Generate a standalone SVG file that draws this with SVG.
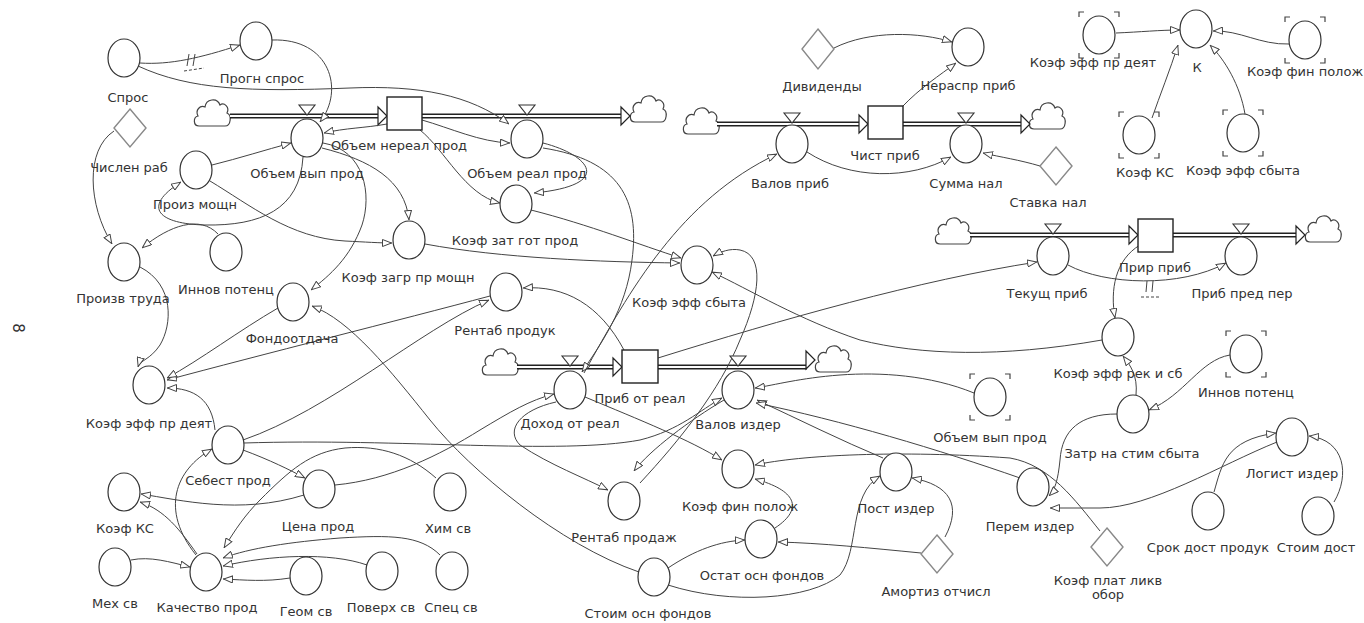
<svg xmlns="http://www.w3.org/2000/svg" xmlns:xlink="http://www.w3.org/1999/xlink" width="1364" height="623" viewBox="0 0 1364 623">
<style>
.n{fill:#fff;stroke:#333;stroke-width:1.2}
.d{fill:#fff;stroke:#888;stroke-width:1.4}
.b{fill:#fff;stroke:#222;stroke-width:1.4}
.t{font-family:"DejaVu Sans",sans-serif;font-size:13px;fill:#333;text-anchor:middle}
.c{fill:none;stroke:#444;stroke-width:1;marker-end:url(#ah)}
.po{fill:none;stroke:#222;stroke-width:5}
.pi{fill:none;stroke:#fff;stroke-width:2.2}
.pa{fill:#fff;stroke:#222;stroke-width:1.2}
.v{fill:#fff;stroke:#333;stroke-width:1.1}
.cl{fill:#fff;stroke:#444;stroke-width:1.2}
.br{fill:none;stroke:#444;stroke-width:1.2}
.dl{fill:none;stroke:#444;stroke-width:1}
.dd{fill:none;stroke:#444;stroke-width:1;stroke-dasharray:3 2}
</style>
<defs>
<marker id="ah" viewBox="0 0 10 8" refX="10" refY="4" markerWidth="10" markerHeight="8" orient="auto" markerUnits="userSpaceOnUse">
<path d="M0.5,0.5 L9.5,4 L0.5,7.5 Z" fill="#fff" stroke="#444" stroke-width="1"/>
</marker>
<path id="cloud" class="cl" d="M-13,12 C-19,12 -19,3 -14,2 C-17,-4 -12,-9 -7,-7 C-6,-15 5,-17 8,-9 C12,-12 18,-7 15,-1 C20,1 19,12 13,12 Z"/>
<path id="brk" class="br" d="M-20,-18 V-23 H-15 M15,-23 H20 V-18 M20,18 V23 H15 M-15,23 H-20 V18"/>
</defs>
<rect width="1364" height="623" fill="#fff"/>

<text x="18" y="328" font-family="DejaVu Sans, sans-serif" font-size="15" fill="#333" text-anchor="middle" dominant-baseline="central" transform="rotate(90 18 328)">8</text>

<g id="flows">
<use href="#cloud" x="212" y="114"/>
<use href="#cloud" x="648" y="110"/>
<use href="#cloud" x="701" y="122"/>
<use href="#cloud" x="1047" y="117"/>
<use href="#cloud" x="953" y="232"/>
<use href="#cloud" x="1323" y="230"/>
<use href="#cloud" x="500" y="363"/>
<use href="#cloud" x="833" y="360"/>
<path class="po" d="M230,116 H379 M422,116 H622 M717,124 H860 M903,124 H1022 M970,235 H1130 M1173,235 H1297 M517,367 H614 M658,367 H807"/>
<path class="pi" d="M230,116 H379 M422,116 H622 M717,124 H860 M903,124 H1022 M970,235 H1130 M1173,235 H1297 M517,367 H614 M658,367 H807"/>
<path class="pa" d="M378,107 L387,116 L378,125 Z M621,107 L630,116 L621,125 Z M859,115 L868,124 L859,133 Z M1021,115 L1030,124 L1021,133 Z M1129,226 L1138,235 L1129,244 Z M1296,226 L1305,235 L1296,244 Z M613,358 L622,367 L613,376 Z M806,351 L815,360 L806,369 Z"/>
</g>

<g id="connectors">
<path class="c" d="M140,63 C170,65 200,58 240,45"/>
<path class="dl" d="M189,54 L187,66 M195,54 L193,66"/>
<path class="dd" d="M184,71 L204,68"/>
<path class="c" d="M138,66 C190,90 250,92 350,88 C420,85 470,95 509,124"/>
<path class="c" d="M272,40 C330,38 345,90 320,122"/>
<path class="c" d="M114,131 C85,150 88,205 112,244"/>
<path class="c" d="M212,165 C240,158 265,150 291,143"/>
<path class="c" d="M303,157 C300,210 260,226 205,225 C160,224 140,208 181,182"/>
<path class="c" d="M218,234 C200,215 170,225 142,248"/>
<path class="c" d="M210,181 C250,205 290,238 345,241 C365,242 380,243 392,243"/>
<path class="c" d="M322,148 C370,160 405,180 409,220"/>
<path class="c" d="M323,143 C365,150 372,195 362,225 C350,258 330,275 311,290"/>
<path class="c" d="M387,124 C365,128 345,128 324,133"/>
<path class="c" d="M422,120 C450,128 480,142 510,143"/>
<path class="c" d="M420,130 C445,150 465,195 500,203"/>
<path class="c" d="M543,143 C590,155 615,185 534,193"/>
<path class="c" d="M543,148 C620,160 640,200 632,260 C626,310 600,345 582,372"/>
<path class="c" d="M584,373 C630,290 680,200 777,154"/>
<path class="c" d="M425,244 C500,258 600,262 680,263"/>
<path class="c" d="M531,210 C590,225 640,245 681,258"/>
<path class="c" d="M1102,340 C1000,358 920,355 860,340 C800,320 750,290 712,272"/>
<path class="c" d="M658,358 C780,320 920,280 1037,262"/>
<path class="c" d="M640,483 C680,440 720,390 740,340 C760,295 765,255 740,250 C730,248 720,252 713,256"/>
<path class="c" d="M724,400 C690,420 650,450 634,471"/>
<path class="c" d="M624,350 C600,305 565,285 523,288"/>
<path class="c" d="M243,440 C330,410 420,330 489,300"/>
<path class="c" d="M490,296 C400,320 260,355 167,380"/>
<path class="c" d="M278,308 C240,330 200,360 167,378"/>
<path class="c" d="M140,267 C175,285 172,325 160,345 C150,360 140,360 138,367"/>
<path class="c" d="M215,430 C212,400 195,388 167,388"/>
<path class="c" d="M639,572 C560,545 470,470 430,420 C390,370 350,320 312,306"/>
<path class="c" d="M335,485 C390,480 440,455 480,430 C510,412 530,400 554,394"/>
<path class="c" d="M244,443 C400,438 560,455 640,440 C680,430 700,410 722,398"/>
<path class="c" d="M556,402 C520,410 505,430 520,445 C550,465 585,478 608,490"/>
<path class="c" d="M585,397 C640,420 690,440 722,460"/>
<path class="c" d="M974,393 C930,375 880,372 840,375 C800,378 775,385 755,388"/>
<path class="c" d="M883,458 C840,440 800,420 757,400"/>
<path class="c" d="M1020,478 C940,450 840,420 756,403"/>
<path class="c" d="M1100,531 C1075,500 1050,465 1010,458 C900,450 800,455 755,465"/>
<path class="c" d="M775,528 C805,508 795,490 755,479"/>
<path class="c" d="M921,553 C870,548 820,543 778,542"/>
<path class="c" d="M945,537 C962,505 950,485 912,478"/>
<path class="c" d="M668,568 C695,550 720,541 745,540"/>
<path class="c" d="M668,585 C730,605 810,600 840,575 C860,550 848,495 880,476"/>
<path class="c" d="M1136,395 C1138,375 1130,365 1123,356"/>
<path class="c" d="M1230,355 C1200,360 1185,395 1149,410"/>
<path class="c" d="M1117,414 C1080,414 1062,430 1060,460 C1058,480 1055,490 1049,496"/>
<path class="c" d="M1277,442 C1220,465 1150,508 1100,508 L1050,508"/>
<path class="c" d="M1214,492 C1222,465 1225,440 1276,433"/>
<path class="c" d="M1334,502 C1350,475 1345,440 1309,436"/>
<path class="c" d="M1140,245 C1115,260 1110,290 1115,318"/>
<path class="c" d="M1068,265 C1105,285 1180,288 1226,263"/>
<path class="dl" d="M1147,281 L1146,292 M1153,281 L1152,292"/>
<path class="dd" d="M1141,297 L1161,297"/>
<path class="c" d="M834,48 C870,30 920,32 952,42"/>
<path class="c" d="M902,107 C920,88 940,75 956,63"/>
<path class="c" d="M807,152 C850,180 910,180 951,157"/>
<path class="c" d="M1040,166 C1020,160 1000,157 983,153"/>
<path class="c" d="M1116,33 C1140,32 1160,30 1180,30"/>
<path class="c" d="M1152,118 C1160,95 1170,70 1178,45"/>
<path class="c" d="M1245,114 C1240,85 1225,60 1210,45"/>
<path class="c" d="M1289,44 C1260,45 1240,30 1213,31"/>
<path class="c" d="M131,560 C150,556 170,562 190,567"/>
<path class="c" d="M197,554 C180,530 165,510 140,502"/>
<path class="c" d="M196,555 C160,510 175,470 212,449"/>
<path class="c" d="M304,495 C240,515 180,500 141,494"/>
<path class="c" d="M243,450 C270,460 290,470 305,478"/>
<path class="c" d="M436,478 C410,455 380,445 345,448 C310,452 290,470 260,500 C245,515 235,530 224,548"/>
<path class="c" d="M290,578 C265,582 245,580 223,579"/>
<path class="c" d="M367,565 C330,552 270,555 223,566"/>
<path class="c" d="M440,555 C420,535 390,535 340,538 C290,542 250,548 223,558"/>
</g>

<g id="n-spros"><ellipse class="n" cx="124" cy="58" rx="16" ry="19"/><text class="t" x="128" y="102">Спрос</text></g>
<g id="n-prognspros"><ellipse class="n" cx="256" cy="41" rx="16" ry="19"/><text class="t" x="262" y="83">Прогн спрос</text></g>
<g id="n-chislenrab"><polygon class="d" points="130,109 146,128 130,147 114,128"/><text class="t" x="129" y="172">Числен раб</text></g>
<g id="n-obvyp"><polygon class="v" points="299,105 315,105 307,115"/><ellipse class="n" cx="307" cy="138" rx="16" ry="19"/><text class="t" x="307" y="178">Объем вып прод</text></g>
<g id="n-obnereal"><rect class="b" x="387" y="97" width="35" height="33"/><text class="t" x="399" y="150">Объем нереал прод</text></g>
<g id="n-obreal"><polygon class="v" points="519,105 535,105 527,115"/><ellipse class="n" cx="527" cy="139" rx="16" ry="19"/><text class="t" x="527" y="178">Объем реал прод</text></g>
<g id="n-proizmoshn"><ellipse class="n" cx="196" cy="170" rx="16" ry="19"/><text class="t" x="195" y="209">Произ мощн</text></g>
<g id="n-proizvtruda"><ellipse class="n" cx="124" cy="262" rx="16" ry="19"/><text class="t" x="123" y="303">Произв труда</text></g>
<g id="n-innov1"><ellipse class="n" cx="226" cy="252" rx="16" ry="19"/><text class="t" x="226" y="294">Иннов потенц</text></g>
<g id="n-koefzagr"><ellipse class="n" cx="409" cy="240" rx="16" ry="19"/><text class="t" x="408" y="282">Коэф загр пр мощн</text></g>
<g id="n-koefzat"><ellipse class="n" cx="516" cy="204" rx="16" ry="19"/><text class="t" x="515" y="245">Коэф зат гот прод</text></g>
<g id="n-fondootdacha"><ellipse class="n" cx="293" cy="302" rx="16" ry="19"/><text class="t" x="292" y="343">Фондоотдача</text></g>
<g id="n-rentprod"><ellipse class="n" cx="506" cy="292" rx="16" ry="19"/><text class="t" x="505" y="335">Рентаб продук</text></g>
<g id="n-koefsbyta"><ellipse class="n" cx="697" cy="265" rx="16" ry="19"/><text class="t" x="689" y="307">Коэф эфф сбыта</text></g>
<g id="n-koefprdeyat"><ellipse class="n" cx="149" cy="385" rx="16" ry="19"/><text class="t" x="149" y="428">Коэф эфф пр деят</text></g>
<g id="n-dohod"><polygon class="v" points="562,356 578,356 570,366"/><ellipse class="n" cx="570" cy="390" rx="16" ry="19"/><text class="t" x="570" y="428">Доход от реал</text></g>
<g id="n-pribotreal"><rect class="b" x="622" y="350" width="36" height="33"/><text class="t" x="640" y="403">Приб от реал</text></g>
<g id="n-valizder"><polygon class="v" points="730,356 746,356 738,366"/><ellipse class="n" cx="738" cy="390" rx="16" ry="19"/><text class="t" x="738" y="429">Валов издер</text></g>
<g id="n-obvyp2"><ellipse class="n" cx="990" cy="397" rx="16" ry="19"/><use href="#brk" x="990" y="397"/><text class="t" x="990" y="442">Объем вып прод</text></g>
<g id="n-sebest"><ellipse class="n" cx="228" cy="445" rx="16" ry="19"/><text class="t" x="228" y="485">Себест прод</text></g>
<g id="n-koefks1"><ellipse class="n" cx="124" cy="492" rx="16" ry="19"/><text class="t" x="125" y="533">Коэф КС</text></g>
<g id="n-tsena"><ellipse class="n" cx="319" cy="489" rx="16" ry="19"/><text class="t" x="318" y="531">Цена прод</text></g>
<g id="n-him"><ellipse class="n" cx="450" cy="492" rx="16" ry="19"/><text class="t" x="448" y="533">Хим св</text></g>
<g id="n-meh"><ellipse class="n" cx="115" cy="567" rx="16" ry="19"/><text class="t" x="115" y="608">Мех св</text></g>
<g id="n-kachestvo"><ellipse class="n" cx="206" cy="572" rx="16" ry="19"/><text class="t" x="207" y="612">Качество прод</text></g>
<g id="n-geom"><ellipse class="n" cx="306" cy="576" rx="16" ry="19"/><text class="t" x="306" y="616">Геом св</text></g>
<g id="n-poverh"><ellipse class="n" cx="382" cy="571" rx="16" ry="19"/><text class="t" x="381" y="612">Поверх св</text></g>
<g id="n-spec"><ellipse class="n" cx="452" cy="571" rx="16" ry="19"/><text class="t" x="451" y="612">Спец св</text></g>
<g id="n-rentprodazh"><ellipse class="n" cx="624" cy="501" rx="16" ry="19"/><text class="t" x="624" y="542">Рентаб продаж</text></g>
<g id="n-stoimosn"><ellipse class="n" cx="654" cy="577" rx="16" ry="19"/><text class="t" x="648" y="618">Стоим осн фондов</text></g>
<g id="n-koeffin1"><ellipse class="n" cx="738" cy="469" rx="16" ry="19"/><text class="t" x="740" y="511">Коэф фин полож</text></g>
<g id="n-ostat"><ellipse class="n" cx="761" cy="539" rx="16" ry="19"/><text class="t" x="762" y="580">Остат осн фондов</text></g>
<g id="n-post"><ellipse class="n" cx="896" cy="472" rx="16" ry="19"/><text class="t" x="896" y="513">Пост издер</text></g>
<g id="n-amort"><polygon class="d" points="937,535 953,554 937,573 921,554"/><text class="t" x="936" y="596">Амортиз отчисл</text></g>
<g id="n-perem"><ellipse class="n" cx="1033" cy="487" rx="16" ry="19"/><text class="t" x="1030" y="531">Перем издер</text></g>
<g id="n-koefplat"><polygon class="d" points="1107,528 1123,547 1107,566 1091,547"/><text class="t" x="1108" y="585">Коэф плат ликв</text><text class="t" x="1108" y="599">обор</text></g>
<g id="n-zatr"><ellipse class="n" cx="1133" cy="414" rx="16" ry="19"/><text class="t" x="1132" y="458">Затр на стим сбыта</text></g>
<g id="n-logist"><ellipse class="n" cx="1292" cy="437" rx="16" ry="19"/><text class="t" x="1292" y="478">Логист издер</text></g>
<g id="n-srok"><ellipse class="n" cx="1208" cy="511" rx="16" ry="19"/><text class="t" x="1208" y="552">Срок дост продук</text></g>
<g id="n-stoimdost"><ellipse class="n" cx="1318" cy="516" rx="16" ry="19"/><text class="t" x="1316" y="552">Стоим дост</text></g>
<g id="n-innov2"><ellipse class="n" cx="1246" cy="354" rx="16" ry="19"/><use href="#brk" x="1246" y="354"/><text class="t" x="1246" y="397">Иннов потенц</text></g>
<g id="n-koefrek"><ellipse class="n" cx="1118" cy="337" rx="16" ry="19"/><text class="t" x="1118" y="378">Коэф эфф рек и сб</text></g>
<g id="n-tekushch"><polygon class="v" points="1045,224 1061,224 1053,234"/><ellipse class="n" cx="1053" cy="256" rx="16" ry="19"/><text class="t" x="1047" y="298">Текущ приб</text></g>
<g id="n-prir"><rect class="b" x="1138" y="219" width="35" height="33"/><text class="t" x="1155" y="272">Прир приб</text></g>
<g id="n-pribpred"><polygon class="v" points="1233,224 1249,224 1241,234"/><ellipse class="n" cx="1241" cy="256" rx="16" ry="19"/><text class="t" x="1242" y="298">Приб пред пер</text></g>
<g id="n-valpr"><polygon class="v" points="784,113 800,113 792,123"/><ellipse class="n" cx="792" cy="144" rx="16" ry="19"/><text class="t" x="790" y="188">Валов приб</text></g>
<g id="n-chist"><rect class="b" x="868" y="106" width="35" height="33"/><text class="t" x="885" y="160">Чист приб</text></g>
<g id="n-summanal"><polygon class="v" points="958,113 974,113 966,123"/><ellipse class="n" cx="966" cy="144" rx="16" ry="19"/><text class="t" x="966" y="188">Сумма нал</text></g>
<g id="n-divid"><polygon class="d" points="818,29 834,49 818,69 802,49"/><text class="t" x="822" y="91">Дивиденды</text></g>
<g id="n-neraspr"><ellipse class="n" cx="968" cy="47" rx="16" ry="19"/><text class="t" x="968" y="90">Нераспр приб</text></g>
<g id="n-stavka"><polygon class="d" points="1056,147 1072,166 1056,185 1040,166"/><text class="t" x="1048" y="207">Ставка нал</text></g>
<g id="n-koefprdeyat2"><ellipse class="n" cx="1099" cy="35" rx="16" ry="19"/><use href="#brk" x="1099" y="35"/><text class="t" x="1093" y="67">Коэф эфф пр деят</text></g>
<g id="n-K"><ellipse class="n" cx="1196" cy="29" rx="16" ry="19"/><text class="t" x="1197" y="72">К</text></g>
<g id="n-koeffin2"><ellipse class="n" cx="1305" cy="40" rx="16" ry="19"/><use href="#brk" x="1305" y="40"/><text class="t" x="1305" y="76">Коэф фин полож</text></g>
<g id="n-koefks2"><ellipse class="n" cx="1139" cy="135" rx="16" ry="19"/><use href="#brk" x="1139" y="135"/><text class="t" x="1145" y="177">Коэф КС</text></g>
<g id="n-koefsbyta2"><ellipse class="n" cx="1243" cy="133" rx="16" ry="19"/><use href="#brk" x="1243" y="133"/><text class="t" x="1243" y="175">Коэф эфф сбыта</text></g>
</svg>
